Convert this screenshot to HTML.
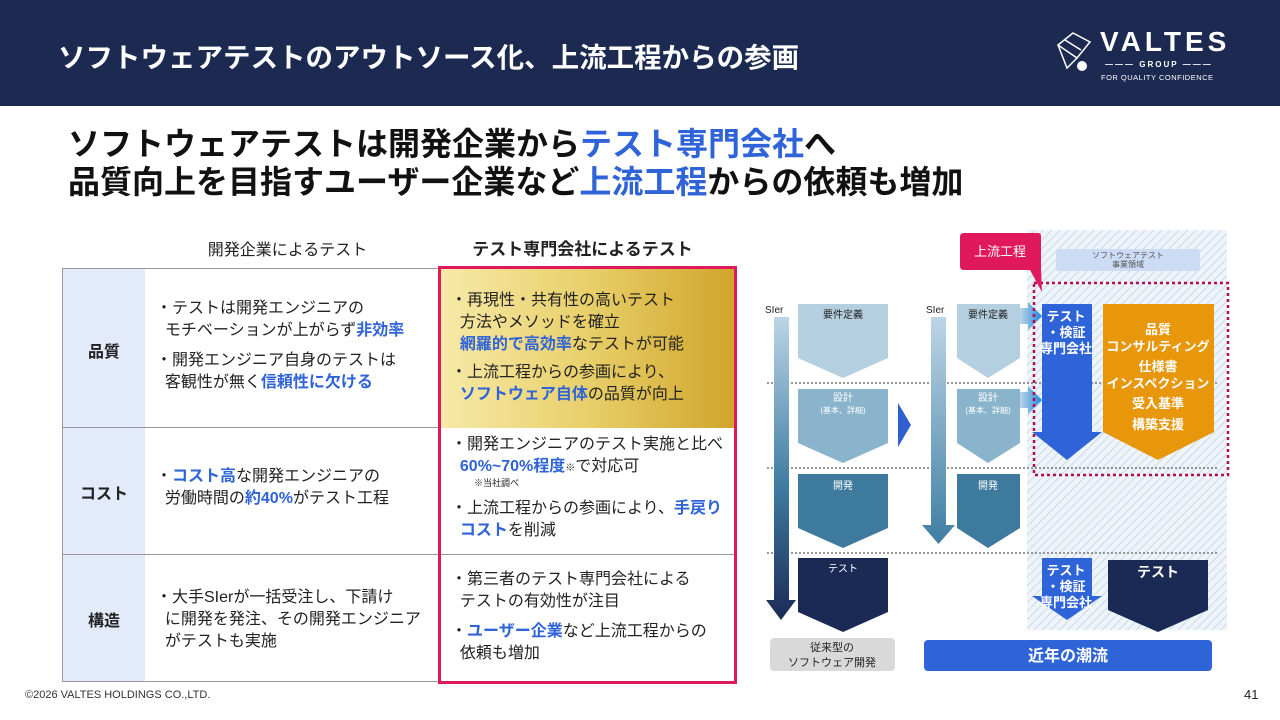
<!DOCTYPE html>
<html><head><meta charset="utf-8">
<style>
*{margin:0;padding:0;box-sizing:border-box}
body{width:1280px;height:720px;position:relative;overflow:hidden;background:#fff;font-family:"Liberation Sans","Noto Sans CJK JP",sans-serif;color:#222}
.a{position:absolute}
.b{color:#2f63d8;font-weight:bold}
.t{font-size:16px;line-height:22px;white-space:nowrap}
.lab{font-weight:bold;font-size:16px;text-align:center}
</style></head><body>
<div class="a" style="left:0;top:0;width:1280px;height:106px;background:#1c2951"></div>
<div class="a" style="left:58px;top:35px;color:#fff;font-size:27.5px;font-weight:bold;white-space:nowrap">ソフトウェアテストのアウトソース化、上流工程からの参画</div>
<div class="a" style="left:1100px;top:26px;color:#fff;font-size:28px;font-weight:bold;letter-spacing:4px">VALTES</div>
<div class="a" style="left:1105px;top:60px;color:#fff;font-size:8px;font-weight:bold;letter-spacing:2px">―――&nbsp;GROUP&nbsp;―――</div>
<div class="a" style="left:1101px;top:73px;color:#fff;font-size:7.5px;letter-spacing:0.5px">FOR QUALITY CONFIDENCE</div>
<svg class="a" style="left:1055px;top:30px" width="40" height="45"><g fill="none" stroke="#fff" stroke-width="1.5"><path d="M3 15 L18 3 L35 12 L22 28 Z"/><path d="M3 15 L12 38 L22 28"/><path d="M10 10 L26 20"/></g><circle cx="27" cy="36" r="5" fill="#fff"/></svg>

<div class="a" style="left:68px;top:125px;font-size:32px;font-weight:bold;line-height:38px;white-space:nowrap;color:#111">ソフトウェアテストは開発企業から<span class="b">テスト専門会社</span>へ<br>品質向上を目指すユーザー企業など<span class="b">上流工程</span>からの依頼も増加</div>

<div class="a" style="left:145px;top:236px;width:285px;text-align:center;font-size:16px">開発企業によるテスト</div>
<div class="a" style="left:440px;top:235px;width:285px;text-align:center;font-size:17px;font-weight:bold">テスト専門会社によるテスト</div>

<div class="a" style="left:62px;top:268px;width:675px;height:414px;border:1px solid #999"></div>
<div class="a" style="left:63px;top:269px;width:82px;height:412px;background:#e3ebfb"></div>
<div class="a" style="left:62px;top:427px;width:675px;border-top:1px solid #999"></div>
<div class="a" style="left:62px;top:554px;width:675px;border-top:1px solid #999"></div>
<div class="a" style="left:440px;top:268px;width:295px;height:160px;background:linear-gradient(90deg,#f7eaa8,#e8cf6a 50%,#d0a52a)"></div>
<div class="a" style="left:438px;top:266px;width:299px;height:418px;border:3px solid #e0185c"></div>

<div class="a lab" style="left:63px;top:338px;width:82px">品質</div>
<div class="a lab" style="left:63px;top:480px;width:82px">コスト</div>
<div class="a lab" style="left:63px;top:607px;width:82px">構造</div>

<div class="a t" style="left:156px;top:298px">・テストは開発エンジニアの<br>&nbsp;&nbsp;モチベーションが上がらず<span class="b">非効率</span></div>
<div class="a t" style="left:156px;top:350px">・開発エンジニア自身のテストは<br>&nbsp;&nbsp;客観性が無く<span class="b">信頼性に欠ける</span></div>
<div class="a t" style="left:156px;top:466px">・<span class="b">コスト高</span>な開発エンジニアの<br>&nbsp;&nbsp;労働時間の<span class="b">約40%</span>がテスト工程</div>
<div class="a t" style="left:156px;top:587px">・大手SIerが一括受注し、下請け<br>&nbsp;&nbsp;に開発を発注、その開発エンジニア<br>&nbsp;&nbsp;がテストも実施</div>

<div class="a t" style="left:451px;top:290px">・再現性・共有性の高いテスト<br>&nbsp;&nbsp;方法やメソッドを確立<br>&nbsp;&nbsp;<span class="b">網羅的で高効率</span>なテストが可能</div>
<div class="a t" style="left:451px;top:362px">・上流工程からの参画により、<br>&nbsp;&nbsp;<span class="b">ソフトウェア自体</span>の品質が向上</div>
<div class="a t" style="left:451px;top:434px">・開発エンジニアのテスト実施と比べ<br>&nbsp;&nbsp;<span class="b">60%~70%程度</span><span style="font-size:10px">※</span>で対応可</div>
<div class="a" style="left:474px;top:476px;font-size:9px">※当社調べ</div>
<div class="a t" style="left:451px;top:498px">・上流工程からの参画により、<span class="b">手戻り</span><br>&nbsp;&nbsp;<span class="b">コスト</span>を削減</div>
<div class="a t" style="left:451px;top:569px">・第三者のテスト専門会社による<br>&nbsp;&nbsp;テストの有効性が注目</div>
<div class="a t" style="left:451px;top:621px">・<span class="b">ユーザー企業</span>など上流工程からの<br>&nbsp;&nbsp;依頼も増加</div>

<svg class="a" style="left:0;top:0" width="1280" height="720" font-family="Liberation Sans,Noto Sans CJK JP,sans-serif">
<defs>
<pattern id="h" width="6" height="6" patternUnits="userSpaceOnUse" patternTransform="rotate(45)"><rect width="6" height="6" fill="#eef4f9"/><line x1="0" y1="0" x2="0" y2="6" stroke="#c9dbe8" stroke-width="2"/></pattern>
<linearGradient id="g" x1="0" y1="0" x2="0" y2="1"><stop offset="0" stop-color="#bcd5e6"/><stop offset="0.55" stop-color="#3f7ea3"/><stop offset="1" stop-color="#1b2a55"/></linearGradient>
<linearGradient id="g2" x1="0" y1="0" x2="0" y2="1"><stop offset="0" stop-color="#bcd5e6"/><stop offset="1" stop-color="#3f7ea3"/></linearGradient>
<linearGradient id="sa" x1="0" y1="0" x2="1" y2="0"><stop offset="0" stop-color="#bcd5e6"/><stop offset="1" stop-color="#1e88e0"/></linearGradient>
</defs>
<rect x="1027" y="230" width="200" height="400" fill="url(#h)"/>
<g stroke="#777" stroke-width="1.5" stroke-dasharray="2,2"><line x1="767" y1="383" x2="1217" y2="383"/><line x1="767" y1="468" x2="1217" y2="468"/><line x1="767" y1="553" x2="1217" y2="553"/></g>
<text x="765" y="313" font-size="10" fill="#222">SIer</text>
<path d="M774 317 H789 V600 H796 L781 620 L766 600 H774 Z" fill="url(#g)"/>
<path d="M798 304 H888 V358 L843 378 L798 358 Z" fill="#b4cfe0"/>
<path d="M798 389 H888 V443 L843 463 L798 443 Z" fill="#8ab3cc"/>
<path d="M798 474 H888 V528 L843 548 L798 528 Z" fill="#3e7a9e"/>
<path d="M798 558 H888 V612 L843 632 L798 612 Z" fill="#1b2a55"/>
<g fill="#222" font-size="10" text-anchor="middle"><text x="843" y="318">要件定義</text><text x="843" y="401" fill="#fff">設計</text><text x="843" y="413" font-size="8" fill="#fff">(基本、詳細)</text><text x="843" y="489" fill="#fff">開発</text><text x="843" y="572" fill="#fff">テスト</text></g>
<path d="M898 403 L911 425 L898 447 Z" fill="#3060d0"/>
<text x="926" y="313" font-size="10" fill="#222">SIer</text>
<path d="M931 317 H946 V525 L955 525 L938.5 544 L922 525 H931 Z" fill="url(#g2)"/>
<path d="M957 304 H1020 V358 L988 378 L957 358 Z" fill="#b4cfe0"/>
<path d="M957 389 H1020 V443 L988 463 L957 443 Z" fill="#8ab3cc"/>
<path d="M957 474 H1020 V528 L988 548 L957 528 Z" fill="#3e7a9e"/>
<g fill="#222" font-size="10" text-anchor="middle"><text x="988" y="318">要件定義</text><text x="988" y="401" fill="#fff">設計</text><text x="988" y="413" font-size="8" fill="#fff">(基本、詳細)</text><text x="988" y="489" fill="#fff">開発</text></g>
<path d="M1020 308 H1028 V302 L1042 316 L1028 330 V324 H1020 Z" fill="url(#sa)"/>
<path d="M1020 392 H1028 V386 L1042 400 L1028 414 V408 H1020 Z" fill="url(#sa)"/>
<path d="M1042 304 H1092 V432 H1102 L1067 460 L1032 432 H1042 Z" fill="#2f63d8"/>
<g fill="#fff" font-size="13" font-weight="bold" text-anchor="middle"><text x="1066" y="321">テスト</text><text x="1066" y="337">・検証</text><text x="1066" y="353">専門会社</text></g>
<path d="M1103 304 H1214 V432 L1158 460 L1103 432 Z" fill="#e8960a"/>
<g fill="#fff" font-size="13" font-weight="bold" text-anchor="middle"><text x="1158" y="334">品質</text><text x="1158" y="351">コンサルティング</text><text x="1158" y="371">仕様書</text><text x="1158" y="388">インスペクション</text><text x="1158" y="408">受入基準</text><text x="1158" y="429">構築支援</text></g>
<rect x="1034" y="283" width="194" height="192" fill="none" stroke="#b0104a" stroke-width="2.5" stroke-dasharray="3,3"/>
<path d="M1042 558 H1092 V596 H1102 L1067 620 L1032 596 H1042 Z" fill="#2f63d8"/>
<g fill="#fff" font-size="13" font-weight="bold" text-anchor="middle"><text x="1066" y="575">テスト</text><text x="1066" y="591">・検証</text><text x="1066" y="607">専門会社</text></g>
<path d="M1108 560 H1208 V610 L1158 632 L1108 610 Z" fill="#1b2a55"/>
<text x="1158" y="577" fill="#fff" font-size="14" font-weight="bold" text-anchor="middle">テスト</text>
<rect x="1056" y="249" width="144" height="22" rx="2" fill="#cddcf5"/>
<g fill="#555" font-size="8" text-anchor="middle"><text x="1128" y="258">ソフトウェアテスト</text><text x="1128" y="267">事業領域</text></g>
<path d="M964 233 H1038 Q1041 233 1041 236 V268 L1042 292 L1030 270 H964 Q960 270 960 266 V237 Q960 233 964 233 Z" fill="#e0185c"/>
<text x="1000" y="256" fill="#fff" font-size="13" text-anchor="middle">上流工程</text>
<rect x="770" y="638" width="125" height="33" rx="4" fill="#d9d9d9"/>
<g fill="#222" font-size="11" text-anchor="middle"><text x="832" y="651">従来型の</text><text x="832" y="666">ソフトウェア開発</text></g>
<rect x="924" y="640" width="288" height="31" rx="4" fill="#2f63d8"/>
<text x="1068" y="661" fill="#fff" font-size="16" font-weight="bold" text-anchor="middle">近年の潮流</text>
</svg>

<div class="a" style="left:25px;top:689px;font-size:11px;color:#333">©2026 VALTES HOLDINGS CO.,LTD.</div>
<div class="a" style="left:1244px;top:687px;font-size:13px;color:#222">41</div>
</body></html>
